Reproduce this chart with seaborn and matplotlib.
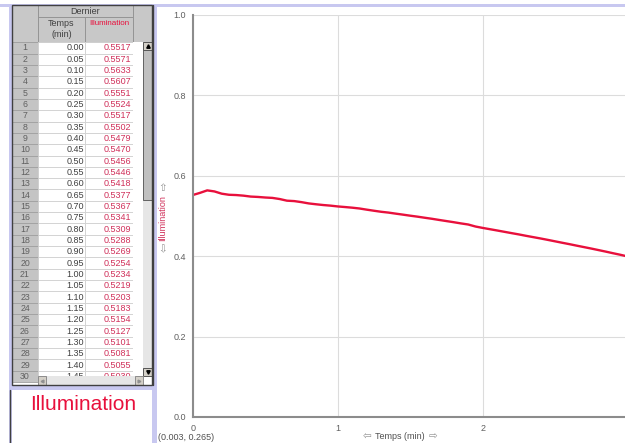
import numpy as np
import seaborn as sns
import matplotlib.pyplot as plt
from matplotlib.patches import Rectangle

# Data (Temps in min, Illumination) - table rows 1..30 then rest of the run
temps = [0.00, 0.05, 0.10, 0.15, 0.20, 0.25, 0.30, 0.35, 0.40, 0.45,
         0.50, 0.55, 0.60, 0.65, 0.70, 0.75, 0.80, 0.85, 0.90, 0.95,
         1.00, 1.05, 1.10, 1.15, 1.20, 1.25, 1.30, 1.35, 1.40, 1.45,
         1.50, 1.55, 1.60, 1.65, 1.70, 1.75, 1.80, 1.85, 1.90, 1.95,
         2.00, 2.05, 2.10, 2.15, 2.20, 2.25, 2.30, 2.35, 2.40, 2.45,
         2.50, 2.55, 2.60, 2.65, 2.70, 2.75, 2.80, 2.85, 2.90, 2.95, 3.00]
illum = [0.5517, 0.5571, 0.5633, 0.5607, 0.5551, 0.5524, 0.5517, 0.5502, 0.5479, 0.5470,
         0.5456, 0.5446, 0.5418, 0.5377, 0.5367, 0.5341, 0.5309, 0.5288, 0.5269, 0.5254,
         0.5234, 0.5219, 0.5203, 0.5183, 0.5154, 0.5127, 0.5101, 0.5081, 0.5055, 0.5030,
         0.5004, 0.4980, 0.4953, 0.4927, 0.4898, 0.4870, 0.4842, 0.4812, 0.4785, 0.4735,
         0.4700, 0.4668, 0.4636, 0.4603, 0.4570, 0.4538, 0.4503, 0.4470, 0.4437, 0.4402,
         0.4366, 0.4330, 0.4295, 0.4258, 0.4222, 0.4186, 0.4148, 0.4110, 0.4070, 0.4032, 0.3990]
n_rows = 30  # rows shown in the table

red = '#e8103c'
lav = '#c8c8f0'

sns.set_style("white")
plt.rcParams['font.family'] = ['Liberation Sans', 'DejaVu Sans']

fig = plt.figure(figsize=(6.25, 4.43), dpi=100)

# background axes in pixel units for the table panel
bg = fig.add_axes([0, 0, 1, 1])
bg.set_xlim(0, 625)
bg.set_ylim(443, 0)
bg.axis('off')

def box(x0, y0, x1, y1, fc, ec='none', lw=0.6, z=1):
    bg.add_patch(Rectangle((x0, y0), x1 - x0, y1 - y0, facecolor=fc, edgecolor=ec, lw=lw, zorder=z))

# frame lines
box(0, 4, 625, 7, lav, z=0)
box(9, 4, 12, 443, lav, z=0)
box(152, 4, 157, 443, lav, z=0)
box(12, 385, 152, 390, lav, z=0)
bg.plot([10, 10], [390, 443], color='#404040', lw=1)
bg.plot([153, 153], [5, 385], color='#404040', lw=1)

# header
hc = '#c8c8c8'
box(12, 5, 38, 42, hc, '#909090')
box(38, 5, 133, 17, hc, '#909090')
box(38, 17, 85, 42, hc, '#909090')
box(85, 17, 133, 42, hc, '#909090')
box(133, 5, 152, 42, hc, '#909090')
bg.text(85.5, 11.5, "Dernier", fontsize=6.5, color='#404040', ha='center', va='center')
bg.text(61.5, 23.5, "Temps", fontsize=6.5, color='#404040', ha='center', va='center')
bg.text(61.5, 34, "(min)", fontsize=6.5, color='#404040', ha='center', va='center')
bg.text(109, 23.5, "Illumination", fontsize=5.8, color=red, ha='center', va='center')

# data rows
row_h = 11.33
top0 = 42.2
for i in range(n_rows):
    top = top0 + i * row_h
    bot = top + row_h
    yc = top + row_h / 2
    box(12, top, 38, bot, '#c4c4c4', '#a0a0a0')
    box(38, top, 85, bot, 'white', '#d0d0d0')
    box(85, top, 133, bot, 'white', '#d0d0d0')
    box(133, top, 143, bot, 'white', 'none')
    bg.text(25, yc, str(i + 1), fontsize=6.3, color='#606060', ha='center', va='center')
    bg.text(84, yc, "%.2f" % temps[i], fontsize=6.5, color='#404040', ha='right', va='center')
    bg.text(131, yc, "%.4f" % illum[i], fontsize=6.5, color='#d0305a', ha='right', va='center')

# vertical scrollbar
box(143, 42, 152, 376, '#e6e6e6', z=3)
box(143, 42, 152, 50, '#d4d0c8', '#404040', z=4)
box(143, 50, 152, 200, '#c0c0c0', '#505050', z=4)
box(143, 368, 152, 376, '#d4d0c8', '#404040', z=4)
bg.plot([147.5], [46], marker='^', ms=2.5, color='black', zorder=5)
bg.plot([147.5], [372], marker='v', ms=2.5, color='black', zorder=5)

# horizontal scrollbar (hides most of row 30)
box(38, 376, 143, 385, '#e6e6e6', z=3)
box(38, 376, 46, 385, '#d4d0c8', '#808080', z=4)
box(135, 376, 143, 385, '#d4d0c8', '#808080', z=4)
box(143, 376, 152, 385, 'white', z=3)
bg.plot([42], [380.5], marker='<', ms=2, color='#909090', zorder=5)
bg.plot([139], [380.5], marker='>', ms=2, color='#909090', zorder=5)

# table outline
box(12, 5, 152, 385, 'none', '#404040', lw=1, z=6)

bg.text(83.5, 405, "Illumination", fontsize=15, color=red, ha='center', va='center')

# graph
ax = fig.add_axes([192.7 / 625, 26 / 443, 1 - 192.7 / 625, (417 - 14.7) / 443])
sns.lineplot(x=temps, y=illum, ax=ax, color=red, lw=1.7)
ax.set_facecolor('none')
ax.set_xlim(0, (625 - 192.7) / 145)
ax.set_ylim(0, 1.0)
ax.set_xticks([0, 1, 2])
ax.set_xticklabels(['0', '1', '2'])
ax.set_xticks(np.arange(0, 3.0, 0.2), minor=True)
ax.set_yticks([0, 0.2, 0.4, 0.6, 0.8, 1.0])
ax.set_yticklabels(['0.0', '0.2', '0.4', '0.6', '0.8', '1.0'])
ax.set_yticks(np.arange(0, 1.0, 0.1), minor=True)
ax.grid(True, which='major', color='#dcdcdc', lw=0.8)
for s in ['top', 'right']:
    ax.spines[s].set_visible(False)
for s in ['left', 'bottom']:
    ax.spines[s].set_color('#8c8c8c')
    ax.spines[s].set_linewidth(1.5)
ax.tick_params(which='major', length=4, width=0.8, color='#8c8c8c', labelsize=6.5,
               labelcolor='#606060', pad=1)
ax.tick_params(which='minor', length=2.5, width=0.8, color='#8c8c8c')
ax.set_xlabel('')
ax.set_ylabel('')

# axis labels in pixel space
bg.text(163, 218, "Illumination", fontsize=6.5, color='#d0305a', rotation=90, ha='center', va='center')
bg.text(163, 188, "\u21e7", fontsize=7.5, color='#909090', ha='center', va='center')
bg.text(163, 249, "\u21e9", fontsize=7.5, color='#909090', ha='center', va='center')
bg.text(367, 436.5, "\u21e6", fontsize=7.5, color='#909090', ha='center', va='center')
bg.text(400, 436.5, "Temps (min)", fontsize=6.5, color='#505050', ha='center', va='center')
bg.text(433, 436.5, "\u21e8", fontsize=7.5, color='#909090', ha='center', va='center')
bg.text(158, 437, "(0.003, 0.265)", fontsize=6.5, color='#505050', ha='left', va='center')

plt.savefig('out.png', dpi=100)
